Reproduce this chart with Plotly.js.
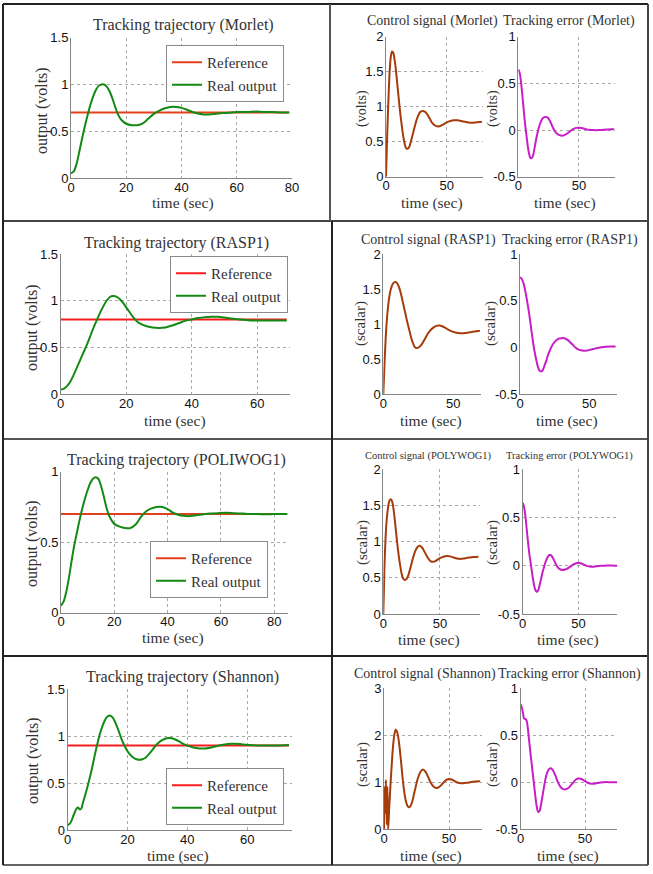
<!DOCTYPE html>
<html>
<head>
<meta charset="utf-8">
<script src="https://cdn.plot.ly/plotly-3.0.1.min.js"></script>
<style>html,body{margin:0;padding:0;background:#fff;}#chart{width:653px;height:874px;}</style>
</head>
<body>
<div id="chart"></div>
<script>
// ---------------- DATA ----------------
// Row 1: Morlet
const morletOutT = [0,1,2,3,4,5,6,7,8,9,10,11,12,13,14,15,16,17,18,19,20,22,24,26,28,30,32,34,36,38,40,42,44,46,48,50,52,55,58,61,64,67,70,73,76,79];
const morletOutY = [0.05,0.07,0.15,0.28,0.42,0.55,0.67,0.78,0.87,0.94,0.985,1.0,1.0,0.975,0.925,0.85,0.76,0.68,0.63,0.60,0.58,0.565,0.565,0.585,0.635,0.685,0.72,0.745,0.76,0.76,0.75,0.73,0.705,0.69,0.68,0.68,0.685,0.695,0.70,0.705,0.705,0.71,0.705,0.705,0.70,0.70];
const morletRefT = [0,79];
const morletRefY = [0.7,0.7];
const morletCtrlT = [0,0.5,1,2,3,4,5,6,7,8,9,10,11,12,13,14,15,16,17,18,19,20,22,24,26,28,30,32,34,36,38,40,42,44,46,48,50,53,56,59,62,65,68,71,74,77,79];
const morletCtrlY = [0,0.3,0.6,1.1,1.5,1.72,1.79,1.77,1.68,1.55,1.38,1.2,1.03,0.87,0.73,0.6,0.5,0.43,0.4,0.4,0.42,0.47,0.6,0.74,0.85,0.92,0.94,0.93,0.89,0.83,0.77,0.735,0.72,0.72,0.735,0.755,0.775,0.795,0.805,0.805,0.795,0.785,0.775,0.77,0.775,0.78,0.78];
const morletErrT = [0,1,2,3,4,5,6,7,8,9,10,11,12,13,14,15,16,17,18,19,20,22,24,26,28,30,32,34,36,38,40,42,44,46,48,50,52,55,58,61,64,67,70,73,76,79];
const morletErrY = [0.65,0.62,0.54,0.42,0.28,0.14,0.02,-0.09,-0.19,-0.26,-0.30,-0.30,-0.28,-0.22,-0.15,-0.08,-0.02,0.03,0.07,0.10,0.125,0.14,0.135,0.10,0.04,-0.01,-0.04,-0.055,-0.06,-0.055,-0.04,-0.02,0.0,0.015,0.023,0.025,0.022,0.012,0.003,0.0,-0.002,0.0,0.003,0.005,0.008,0.008];

// Row 2: RASP1
const raspOutT = [0,1,2,3,4,5,6,7,8,9,10,11,12,13,14,15,16,17,18,19,20,21,22,23,24,26,28,30,32,34,36,38,40,42,44,46,48,50,52,55,58,61,64,67,69];
const raspOutY = [0.05,0.06,0.09,0.14,0.21,0.29,0.37,0.45,0.53,0.62,0.71,0.79,0.87,0.94,1.0,1.04,1.05,1.045,1.02,0.98,0.93,0.88,0.83,0.79,0.76,0.73,0.715,0.71,0.715,0.735,0.76,0.785,0.80,0.815,0.825,0.83,0.828,0.82,0.81,0.80,0.79,0.79,0.79,0.79,0.79];
const raspRefT = [0,69];
const raspRefY = [0.8,0.8];
const raspCtrlT = [0,1,2,3,4,5,6,7,8,9,10,11,12,13,14,15,16,17,18,19,20,21,22,23,24,25,26,28,30,32,34,36,38,40,42,44,46,48,50,53,56,59,62,65,69];
const raspCtrlY = [0,0.5,0.9,1.17,1.35,1.47,1.54,1.58,1.6,1.6,1.58,1.54,1.48,1.4,1.31,1.22,1.13,1.04,0.96,0.88,0.8,0.74,0.69,0.665,0.66,0.665,0.68,0.73,0.8,0.87,0.92,0.955,0.975,0.98,0.97,0.95,0.925,0.905,0.89,0.875,0.87,0.875,0.885,0.895,0.905];
const raspErrT = [0,1,2,3,4,5,6,7,8,9,10,11,12,13,14,15,16,17,18,19,20,21,22,23,24,26,28,30,32,34,36,38,40,42,44,46,48,50,53,56,59,62,65,69];
const raspErrY = [0.75,0.74,0.71,0.66,0.59,0.51,0.42,0.32,0.21,0.1,0.0,-0.08,-0.15,-0.21,-0.245,-0.255,-0.25,-0.22,-0.18,-0.14,-0.09,-0.05,-0.015,0.015,0.04,0.075,0.095,0.1,0.1,0.085,0.06,0.03,0.0,-0.02,-0.03,-0.035,-0.033,-0.025,-0.015,-0.005,0.003,0.008,0.01,0.01];

// Row 3: POLIWOG1
const poliOutT = [0,1,2,3,4,5,6,7,8,9,10,11,12,13,14,15,16,17,18,19,20,22,24,26,28,30,32,34,36,38,40,42,44,46,48,50,53,56,59,62,65,68,71,74,77,80,85];
const poliOutY = [0.05,0.08,0.15,0.25,0.37,0.48,0.57,0.66,0.74,0.81,0.87,0.92,0.95,0.96,0.95,0.9,0.83,0.75,0.69,0.655,0.63,0.61,0.6,0.6,0.625,0.68,0.72,0.74,0.75,0.75,0.735,0.71,0.695,0.687,0.685,0.69,0.697,0.703,0.706,0.708,0.705,0.703,0.7,0.7,0.698,0.7,0.7];
const poliRefT = [0,85];
const poliRefY = [0.7,0.7];
const poliCtrlT = [0,0.5,1,2,3,4,5,6,7,8,9,10,11,12,13,14,15,16,17,18,19,20,22,24,26,28,30,32,34,36,38,40,42,44,46,48,50,53,56,59,62,65,68,71,74,77,80,84];
const poliCtrlY = [0,0.3,0.65,1.05,1.3,1.45,1.54,1.58,1.58,1.54,1.45,1.32,1.17,1.02,0.88,0.76,0.66,0.57,0.51,0.48,0.47,0.475,0.53,0.64,0.76,0.86,0.92,0.94,0.92,0.87,0.81,0.76,0.725,0.72,0.73,0.75,0.77,0.79,0.8,0.795,0.78,0.765,0.76,0.765,0.775,0.78,0.785,0.79];
const poliErrT = [0,1,2,3,4,5,6,7,8,9,10,11,12,13,14,15,16,17,18,19,20,21,22,23,24,25,26,28,30,32,34,36,38,40,42,44,46,48,50,52,55,58,61,64,67,70,74,78,82,85];
const poliErrY = [0.65,0.62,0.55,0.45,0.33,0.22,0.12,0.04,-0.04,-0.12,-0.19,-0.24,-0.265,-0.27,-0.25,-0.21,-0.16,-0.11,-0.06,-0.02,0.02,0.055,0.08,0.1,0.11,0.11,0.1,0.06,0.01,-0.025,-0.04,-0.045,-0.04,-0.03,-0.015,0.0,0.015,0.025,0.03,0.025,0.01,-0.005,-0.01,-0.01,-0.005,-0.002,0.0,0.002,0.0,0.0];

// Row 4: Shannon
const shanOutT = [0,1,2,3,3.5,4,4.5,5,6,7,8,9,10,11,12,13,14,15,16,17,18,19,20,21,22,23,24,25,26,28,30,32,34,36,38,40,42,44,46,48,50,52,55,58,61,64,67,70,74];
const shanOutY = [0.05,0.08,0.16,0.23,0.24,0.22,0.225,0.28,0.39,0.51,0.64,0.79,0.93,1.05,1.14,1.2,1.22,1.2,1.14,1.06,0.97,0.9,0.84,0.8,0.77,0.755,0.75,0.755,0.77,0.84,0.92,0.965,0.98,0.965,0.93,0.9,0.88,0.87,0.87,0.88,0.895,0.91,0.92,0.915,0.905,0.9,0.9,0.9,0.905];
const shanRefT = [0,74];
const shanRefY = [0.9,0.9];
const shanCtrlT = [0,0.4,0.9,1.5,2.1,2.6,3.2,4,5,6,7,8,9,10,11,12,13,14,15,16,17,18,19,20,21,22,24,26,28,30,32,34,36,38,40,42,44,46,48,50,52,54,56,58,61,64,67,70,74];
const shanCtrlY = [0,0.9,0.35,1.05,0.1,0.9,0.0,0.45,0.95,1.4,1.78,2.02,2.12,2.08,1.95,1.74,1.47,1.18,0.92,0.72,0.58,0.5,0.47,0.48,0.53,0.62,0.86,1.08,1.22,1.27,1.22,1.11,0.99,0.91,0.88,0.89,0.94,1.0,1.05,1.07,1.06,1.03,1.0,0.985,0.98,0.99,1.005,1.015,1.02];
const shanErrT = [0,1,2,2.6,3.5,4.5,5.5,6.5,7.5,8.5,9.5,10.5,11.5,12.5,13.5,14.5,15.5,16.5,17.5,18.5,19.5,20.5,22,23.5,25,27,29,31,33,35,37,39,41,43,45,47,49,51,53,55,58,61,64,67,70,75];
const shanErrY = [0.83,0.79,0.72,0.68,0.675,0.66,0.58,0.45,0.32,0.2,0.08,-0.04,-0.16,-0.26,-0.315,-0.31,-0.26,-0.18,-0.1,-0.02,0.05,0.1,0.14,0.15,0.13,0.07,0.0,-0.05,-0.072,-0.075,-0.06,-0.03,0.0,0.03,0.04,0.035,0.02,0.005,-0.01,-0.015,-0.012,-0.005,0.0,0.003,0.0,0.0];

// Tick values
const xTicksTraj80 = [0,20,40,60,80];
const xTicksTraj60 = [0,20,40,60];
const xTicksSmall = [0,50];
const yTicksTraj15 = [0,0.5,1,1.5];
const yTicksTraj1 = [0,0.5,1];
const yTicksCtrl2 = [0,0.5,1,1.5,2];
const yTicksCtrl3 = [0,1,2,3];
const yTicksErr = [-0.5,0,0.5,1];
const yTickTextErr = ['-0.5','0','0.5','1'];

// ---------------- LAYOUT ----------------
const W = 653, H = 874;
const PX = x => x / W;
const PY = y => 1 - y / H;

const SERIF = 'Liberation Serif';
const SANS = 'Liberation Sans';
const RED1 = '#e4401c', RED2 = '#f51d1d', GREEN = '#138a13', BROWN = '#a53c0c', MAG = '#c81ec8';

const layout = {
  width: W, height: H,
  margin: {l:0, r:0, t:0, b:0},
  paper_bgcolor: '#fff', plot_bgcolor: '#fff',
  showlegend: true,
  annotations: [], shapes: []
};

// axis specs: [xpx0,xpx1,ypxTop,ypxBot,xrange,yrange,xticks,yticks,yticktext,grid]
const axSpecs = [
  [71,292,37.7,178,[0,80],[0,1.5],xTicksTraj80,yTicksTraj15,null,true],
  [386,483.1,36.7,176.7,[0,80],[0,2],xTicksSmall,yTicksCtrl2,null,true],
  [518.3,615.4,36.7,176.7,[0,80],[-0.5,1],xTicksSmall,yTicksErr,yTickTextErr,true],
  [60.7,290,254,394.3,[0,70],[0,1.5],xTicksTraj60,yTicksTraj15,null,true],
  [383.3,481.3,254,394.3,[0,70],[0,2],xTicksSmall,yTicksCtrl2,null,false],
  [520,617,254,394.3,[0,70],[-0.5,1],xTicksSmall,yTicksErr,yTickTextErr,false],
  [61,287.5,471.7,612.7,[0,85],[0,1],xTicksTraj80,yTicksTraj1,null,true],
  [383.3,479.6,469,614,[0,85],[0,2],xTicksSmall,yTicksCtrl2,null,true],
  [522.7,617.4,469,614,[0,85],[-0.5,1],xTicksSmall,yTicksErr,yTickTextErr,true],
  [67.7,292,689.3,830,[0,75],[0,1.5],xTicksTraj60,yTicksTraj15,null,true],
  [384,481.5,688.3,829.3,[0,75],[0,3],xTicksSmall,yTicksCtrl3,null,true],
  [520.7,617.2,688.3,829.3,[0,75],[-0.5,1],xTicksSmall,yTicksErr,yTickTextErr,true]
];

axSpecs.forEach((s, i) => {
  const n = i + 1;
  const xk = n === 1 ? 'xaxis' : 'xaxis' + n;
  const yk = n === 1 ? 'yaxis' : 'yaxis' + n;
  const common = {
    showline: true, linecolor: '#858585', linewidth: 1, mirror: false,
    showgrid: s[9], gridcolor: '#a8a8a8', griddash: 'dot', gridwidth: 1,
    zeroline: false, ticks: '', fixedrange: true,
    tickfont: {family: SANS, size: 13, color: '#111'},
    tickmode: 'array'
  };
  layout[xk] = Object.assign({}, common, {
    domain: [PX(s[0]), PX(s[1])], range: s[4], tickvals: s[6],
    anchor: 'y' + (n === 1 ? '' : n), ticklabelstandoff: -3
  });
  const yax = Object.assign({}, common, {
    domain: [PY(s[3]), PY(s[2])], range: s[5], tickvals: s[7],
    anchor: 'x' + (n === 1 ? '' : n), ticklabelstandoff: -1
  });
  if (s[8]) yax.ticktext = s[8];
  layout[yk] = yax;
});

// ---------------- TRACES ----------------
const traces = [];
function line(x, y, ax, color, name, legend) {
  const tr = {
    type: 'scatter', mode: 'lines', x: x, y: y,
    xaxis: 'x' + (ax === 1 ? '' : ax), yaxis: 'y' + (ax === 1 ? '' : ax),
    line: {color: color, width: 2, shape: 'spline', smoothing: 0.9},
    hoverinfo: 'skip', showlegend: !!legend
  };
  if (name) tr.name = name;
  if (legend) tr.legend = legend;
  traces.push(tr);
}
line(morletRefT, morletRefY, 1, RED1, 'Reference', 'legend');
line(morletOutT, morletOutY, 1, GREEN, 'Real output', 'legend');
line(morletCtrlT, morletCtrlY, 2, BROWN);
line(morletErrT, morletErrY, 3, MAG);

line(raspRefT, raspRefY, 4, RED2, 'Reference', 'legend2');
line(raspOutT, raspOutY, 4, GREEN, 'Real output', 'legend2');
line(raspCtrlT, raspCtrlY, 5, BROWN);
line(raspErrT, raspErrY, 6, MAG);

line(poliRefT, poliRefY, 7, RED1, 'Reference', 'legend3');
line(poliOutT, poliOutY, 7, GREEN, 'Real output', 'legend3');
line(poliCtrlT, poliCtrlY, 8, BROWN);
line(poliErrT, poliErrY, 9, MAG);

line(shanRefT, shanRefY, 10, RED2, 'Reference', 'legend4');
line(shanOutT, shanOutY, 10, GREEN, 'Real output', 'legend4');
line(shanCtrlT, shanCtrlY, 11, BROWN);
line(shanErrT, shanErrY, 12, MAG);

// legends
const legBase = {
  xanchor: 'left', yanchor: 'top', bgcolor: '#fff', bordercolor: '#8a8a8a', borderwidth: 1,
  font: {family: SERIF, size: 15, color: '#333'}, itemwidth: 30, tracegroupgap: 0,
  traceorder: 'normal'
};
layout.legend = Object.assign({}, legBase, {x: PX(166), y: PY(45)});
layout.legend2 = Object.assign({}, legBase, {x: PX(170), y: PY(256)});
layout.legend3 = Object.assign({}, legBase, {x: PX(150), y: PY(541)});
layout.legend4 = Object.assign({}, legBase, {x: PX(166), y: PY(768)});

// ---------------- TEXT ----------------
function txt(t, x, y, size, angle) {
  layout.annotations.push({
    text: t, xref: 'paper', yref: 'paper', x: PX(x), y: PY(y),
    xanchor: 'center', yanchor: 'middle', showarrow: false,
    textangle: angle || 0,
    font: {family: SERIF, size: size, color: '#333'}
  });
}
// titles
txt('Tracking trajectory (Morlet)', 183, 25, 16);
txt('Control signal (Morlet)', 432, 21, 14);
txt('Tracking error (Morlet)', 569, 21, 14);
txt('Tracking trajectory (RASP1)', 176, 243, 16);
txt('Control signal (RASP1)', 428, 240, 14);
txt('Tracking error (RASP1)', 570, 240, 14);
txt('Tracking trajectory (POLIWOG1)', 176, 460, 16);
txt('Control signal (POLYWOG1)', 429, 456, 10.5);
txt('Tracking error (POLYWOG1)', 569, 456, 10.5);
txt('Tracking trajectory (Shannon)', 182, 677, 16);
txt('Control signal (Shannon)', 425, 674, 14);
txt('Tracking error (Shannon)', 569, 674, 14);
// x labels
[[183,203],[432,203],[565,203],[175,421],[431,421],[567,421],[173,638],[429,640],[568,640],[178,856],[431,856],[568,856]]
  .forEach(p => txt('time (sec)', p[0], p[1], 15.5));
// y labels
txt('output (volts)', 42, 111, 16, -90);
txt('(volts)', 362, 109, 14, -90);
txt('(volts)', 493, 109, 14, -90);
txt('output (volts)', 32, 328, 16, -90);
txt('(scalar)', 360, 324, 15, -90);
txt('(scalar)', 490, 324, 15, -90);
txt('output (volts)', 32, 544, 16, -90);
txt('(scalar)', 362, 543, 15, -90);
txt('(scalar)', 492, 543, 15, -90);
txt('output (volts)', 33, 761, 16, -90);
txt('(scalar)', 362, 765, 15, -90);
txt('(scalar)', 492, 765, 15, -90);

// ---------------- FRAMES ----------------
function seg(x0, y0, x1, y1, c, w) {
  layout.shapes.push({type: 'line', xref: 'paper', yref: 'paper',
    x0: PX(x0), y0: PY(y0), x1: PX(x1), y1: PY(y1),
    line: {color: c || '#222', width: w || 2}, layer: 'above'});
}
seg(3, 4, 648, 4);
seg(3, 221, 648, 221, '#444');
seg(3, 439, 648, 439, '#555');
seg(3, 656, 648, 656);
seg(3, 865, 648, 865, '#666');
seg(3, 4, 3, 865);
seg(648, 4, 648, 865, '#444');
seg(330, 4, 330, 221, '#555');
seg(332, 221, 332, 865);

Plotly.newPlot('chart', traces, layout, {staticPlot: true, displayModeBar: false});
</script>
</body>
</html>
